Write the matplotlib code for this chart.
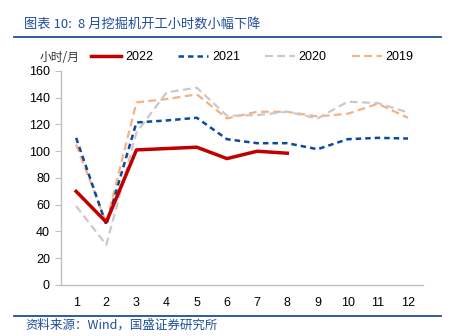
import matplotlib
matplotlib.use("Agg")
import matplotlib.pyplot as plt
from matplotlib.lines import Line2D

plt.rcParams['font.family'] = ['Liberation Sans', 'Noto Sans CJK SC', 'DejaVu Sans']

months = list(range(1, 13))
month_labels = [str(m) for m in months]
y2022 = [70, 47, 101, 102, 103, 94.5, 100, 98.5]
y2021 = [110, 45, 121.5, 123, 125, 109, 106, 106, 101.5, 109, 110, 109.5]
y2020 = [59, 30, 114, 144, 147.5, 126.5, 127, 129.5, 124.5, 137, 136, 129]
y2019 = [105, 46.5, 136.5, 139, 142.5, 124.5, 129.5, 129.5, 126, 128, 135.5, 125]
yticks = [0, 20, 40, 60, 80, 100, 120, 140, 160]

title = "图表 10:  8 月挖掘机开工小时数小幅下降"
source = "资料来源：Wind，国盛证券研究所"
ylabel = "小时/月"

c2022 = "#C00000"
c2021 = "#0B4A9E"
c2020 = "#C9C9C9"
c2019 = "#F4B183"
blue_txt = "#1F4E9A"

fig = plt.figure(figsize=(4.53, 3.36), dpi=100)
ax = fig.add_axes([0.1347, 0.1518, 0.7993, 0.637])

ax.plot(months, y2019, color=c2019, lw=1.6, ls=(0, (3.5, 2)), label="2019", zorder=2)
ax.plot(months, y2020, color=c2020, lw=1.6, ls=(0, (3.5, 2)), label="2020", zorder=2)
ax.plot(months, y2021, color=c2021, lw=1.8, ls=(0, (2.2, 1.6)), label="2021", zorder=3)
ax.plot(months[:len(y2022)], y2022, color=c2022, lw=2.5, label="2022", zorder=4)

ax.set_xlim(0.5, 12.5)
ax.set_ylim(0, 160)
ax.set_xticks(months)
ax.set_xticklabels(month_labels)
ax.set_yticks(yticks)
ax.tick_params(axis='x', length=0, pad=9, labelsize=9)
ax.tick_params(axis='y', length=4, color="#BFBFBF", width=0.8, pad=4, labelsize=9)
for s in ['top', 'right']:
    ax.spines[s].set_visible(False)
for s in ['left', 'bottom']:
    ax.spines[s].set_color("#BFBFBF")
    ax.spines[s].set_linewidth(1.0)

handles = [
    Line2D([], [], color=c2022, lw=2.5),
    Line2D([], [], color=c2021, lw=1.8, ls=(0, (2.2, 1.6))),
    Line2D([], [], color=c2020, lw=1.6, ls=(0, (3.5, 2))),
    Line2D([], [], color=c2019, lw=1.6, ls=(0, (3.5, 2))),
]
fig.legend(handles, ["2022", "2021", "2020", "2019"], loc='center', ncol=4,
           bbox_to_anchor=(0.557, 0.83), frameon=False, fontsize=9,
           handlelength=2.4, handletextpad=0.3, columnspacing=2.0)

fig.text(0.088, 0.83, ylabel, fontsize=8.5, ha='left', va='center', color="#333333",
         family=['Noto Sans CJK SC', 'DejaVu Sans'])

fig.text(0.053, 0.929, title, fontsize=9.5, ha='left', va='center', color=blue_txt,
         style='italic', family=['Noto Sans CJK SC', 'DejaVu Sans'])
fig.add_artist(Line2D([0.031, 0.974], [0.889, 0.889], color=blue_txt, lw=1.3))
fig.add_artist(Line2D([0.031, 0.974], [0.06, 0.06], color=blue_txt, lw=1.3))
fig.text(0.055, 0.032, source, fontsize=9, ha='left', va='center', color=blue_txt,
         style='italic', family=['Noto Sans CJK SC', 'DejaVu Sans'])

fig.savefig("out.png", dpi=100)
